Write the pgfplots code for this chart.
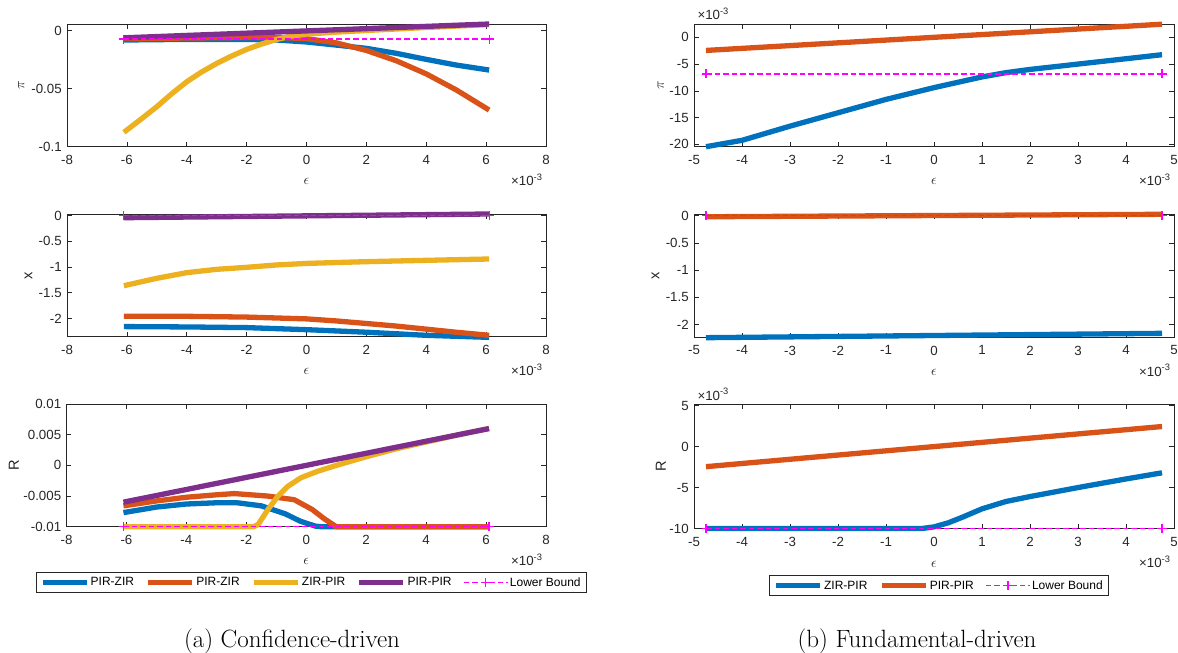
\documentclass[border=0pt]{standalone}
\usepackage{fontspec}
\setsansfont{Liberation Sans}
\usepackage{pgfplots}
\pgfplotsset{compat=1.18}
\definecolor{cB}{rgb}{0,0.447,0.741}
\definecolor{cO}{rgb}{0.85,0.325,0.098}
\definecolor{cY}{rgb}{0.929,0.694,0.125}
\definecolor{cP}{rgb}{0.494,0.184,0.556}
\definecolor{cM}{rgb}{1,0,1}
\definecolor{cAx}{rgb}{0.15,0.15,0.15}
\newcommand{\tickfont}{\sffamily\fontsize{13.3}{15}\selectfont}
\newcommand{\labfont}{\sffamily\fontsize{14.6}{16}\selectfont}
\pgfplotsset{
  mstyle/.style={
    scale only axis, anchor=south west, clip=false,
    scaled ticks=false,
    font=\tickfont,
    axis line style={cAx, line width=0.6pt},
    every tick/.style={cAx, line width=0.6pt},
    tick align=inside, major tick length=4.8pt,
    tick label style={text=cAx, font=\tickfont},
    xticklabel style={yshift=-5pt},
    yticklabel style={xshift=-1.8pt},
    label style={text=cAx, font=\labfont},
    xlabel style={at={(axis description cs:0.5,-0.285)}, anchor=center},
    legend image code/.code={\draw[mark repeat=2,mark phase=2,#1] plot coordinates {(0pt,0pt) (22pt,0pt) (44pt,0pt)};},
  },
  thk/.style={line width=5.3pt, line join=round},
  lb/.style={color=cM, draw=cM, line width=1.3pt, dash pattern=on 5.5pt off 3pt, mark=+, mark size=4.5pt, mark options={solid, line width=1.2pt, draw=cM}},
  lxt/.style={xmin=-8, xmax=8, xtick={-8,-6,...,8}, xticklabels={-8,-6,-4,-2,0,2,4,6,8}},
  rxt/.style={xmin=-5, xmax=5, xtick={-5,-4,...,5}, xticklabels={-5,-4,-3,-2,-1,0,1,2,3,4,5}},
  mylegend/.style={legend style={at={(axis description cs:0.510,#1)}, anchor=center,
     draw=cAx, line width=0.6pt, fill=white, font=\sffamily\fontsize{12}{14}\selectfont,
     inner xsep=4pt, inner ysep=2pt,
     /tikz/every odd column/.append style={column sep=0pt},
     /tikz/every even column/.append style={column sep=10pt},
     nodes={inner xsep=1.5pt, inner ysep=3pt}},
     legend cell align=left},
}
\newcommand{\xsc}{\node[anchor=base east, font=\tickfont, text=cAx] at (rel axis cs:1,0) [yshift=-38.8pt] {×10\textsuperscript{-3}};}
\newcommand{\ysc}{\node[anchor=base west, font=\tickfont, text=cAx] at (rel axis cs:0,1) [yshift=4pt] {×10\textsuperscript{-3}};}
\begin{document}
\begin{tikzpicture}
\path[use as bounding box] (0,0) rectangle (1178pt,-653pt);

% ---------------- left top: pi
\begin{axis}[mstyle, lxt, at={(67pt,-146.7pt)}, width=479pt, height=122.7pt,
  ymin=-0.1, ymax=0.0058, ytick={-0.1,-0.05,0}, yticklabels={-0.1,-0.05,0},
  xlabel={$\epsilon$}, ylabel={$\pi$},
  ylabel style={at={(axis description cs:-0.0954,0.5)}, anchor=center}]
\addplot[thk, cB] coordinates {(-6.1,-0.0080) (-5,-0.0077) (-4,-0.0075) (-3,-0.0075) (-2,-0.0075) (-1,-0.0080) (0,-0.0097) (1,-0.0124) (2,-0.0152) (3,-0.0195) (4,-0.0247) (5,-0.0296) (6.1,-0.0339)};
\addplot[thk, cO] coordinates {(-6.1,-0.0068) (-4,-0.0063) (-2,-0.0058) (-1,-0.0058) (0,-0.0068) (1,-0.0105) (2,-0.0170) (3,-0.0259) (4,-0.0372) (5,-0.0510) (6.1,-0.0684)};
\addplot[thk, cY] coordinates {(-6.1,-0.0876) (-5.5,-0.0757) (-5,-0.0655) (-4.5,-0.0543) (-4,-0.0440) (-3.5,-0.0355) (-3,-0.0282) (-2.5,-0.0218) (-2,-0.0161) (-1.5,-0.0115) (-1,-0.0075) (-0.5,-0.0046) (0,-0.0029) (1,-0.0012) (2,0.0002) (3,0.0015) (4,0.0028) (5,0.0040) (6.1,0.0053)};
\addplot[thk, cP] coordinates {(-6.1,-0.0061) (6.1,0.0058)};
\addplot[lb] coordinates {(-6.1,-0.0072) (6.1,-0.0072)};
\xsc
\end{axis}

% ---------------- left middle: x
\begin{axis}[mstyle, lxt, at={(67pt,-336.7pt)}, width=479pt, height=122.7pt,
  ymin=-2.357, ymax=0.032, ytick={-2,-1.5,-1,-0.5,0}, yticklabels={-2,-1.5,-1,-0.5,0},
  xlabel={$\epsilon$}, ylabel={x},
  ylabel style={at={(axis description cs:-0.0806,0.5)}, anchor=center}]
\addplot[thk, cB] coordinates {(-6.1,-2.16) (-4,-2.167) (-2,-2.18) (0,-2.22) (2,-2.27) (4,-2.33) (6.1,-2.37)};
\addplot[thk, cO] coordinates {(-6.1,-1.96) (-4,-1.96) (-2,-1.975) (0,-2.01) (1,-2.05) (2,-2.10) (3,-2.15) (4,-2.21) (5,-2.27) (6.1,-2.33)};
\addplot[thk, cY] coordinates {(-6.1,-1.364) (-5,-1.22) (-4,-1.11) (-3,-1.045) (-2,-1.006) (-1,-0.96) (0,-0.93) (2,-0.896) (4,-0.87) (6.1,-0.844)};
\addplot[thk, cP] coordinates {(-6.1,-0.04) (6.1,0.032)};
\addplot[lb] coordinates {(-6.1,0) (6.1,0)};
\xsc
\end{axis}

% ---------------- left bottom: R
\begin{axis}[mstyle, lxt, mylegend=-0.455, legend columns=5, at={(66.5pt,-526.7pt)}, width=479.5pt, height=122.7pt,
  ymin=-0.01, ymax=0.01, ytick={-0.01,-0.005,0,0.005,0.01}, yticklabels={-0.01,-0.005,0,0.005,0.01},
  xlabel={$\epsilon$}, ylabel={R},
  ylabel style={at={(axis description cs:-0.11,0.5)}, anchor=center}]
\addplot[thk, cB] coordinates {(-6.1,-0.0077) (-5,-0.0068) (-4,-0.0063) (-3,-0.0061) (-2.3,-0.0061) (-1.5,-0.0066) (-0.7,-0.0079) (-0.2,-0.0091) (0.3,-0.0099) (0.5,-0.01) (6.1,-0.01)};
\addplot[thk, cO] coordinates {(-6.1,-0.0066) (-5,-0.0058) (-4,-0.0052) (-3,-0.0048) (-2.4,-0.0046) (-1.3,-0.0050) (-0.4,-0.0056) (0.2,-0.0072) (0.6,-0.0087) (1.0,-0.01) (6.1,-0.01)};
\addplot[thk, cY] coordinates {(-6.1,-0.01) (-1.75,-0.01) (-1.6,-0.0096) (-1.28,-0.0072) (-0.94,-0.0050) (-0.61,-0.0034) (-0.17,-0.0020) (0.39,-0.00095) (0.94,-0.0001) (1.5,0.0007) (2,0.0014) (3,0.0027) (4,0.0038) (5,0.0049) (6.1,0.0060)};
\addplot[thk, cP] coordinates {(-6.1,-0.006) (6.1,0.006)};
\addplot[lb] coordinates {(-6.1,-0.01) (6.1,-0.01)};
\legend{PIR-ZIR,PIR-ZIR,ZIR-PIR,PIR-PIR,Lower Bound}
\xsc
\end{axis}

% ---------------- right top: pi
\begin{axis}[mstyle, rxt, at={(694pt,-146.7pt)}, width=480pt, height=122.7pt,
  ymin=-20.44, ymax=2.49, ytick={-20,-15,-10,-5,0}, yticklabels={-20,-15,-10,-5,0},
  xlabel={$\epsilon$}, ylabel={$\pi$},
  ylabel style={at={(axis description cs:-0.069,0.5)}, anchor=center}]
\addplot[thk, cB] coordinates {(-4.75,-20.44) (-4,-19.25) (-3,-16.6) (-2,-14.1) (-1,-11.6) (0,-9.4) (0.5,-8.4) (1,-7.4) (1.5,-6.6) (2,-6.0) (3,-5.0) (4,-4.0) (4.75,-3.25)};
\addplot[thk, cO] coordinates {(-4.75,-2.45) (4.75,2.45)};
\addplot[lb] coordinates {(-4.75,-6.85) (4.75,-6.85)};
\xsc
\ysc
\end{axis}

% ---------------- right middle: x
\begin{axis}[mstyle, rxt, at={(694pt,-337.3pt)}, width=480pt, height=123.3pt,
  ymin=-2.238, ymax=0.0306, ytick={-2,-1.5,-1,-0.5,0}, yticklabels={-2,-1.5,-1,-0.5,0},
  xlabel={$\epsilon$}, ylabel={x},
  ylabel style={at={(axis description cs:-0.080,0.5)}, anchor=center}]
\addplot[thk, cB] coordinates {(-4.75,-2.245) (4.75,-2.165)};
\addplot[thk, cO] coordinates {(-4.75,-0.02) (4.75,0.025)};
\addplot[lb] coordinates {(-4.75,0) (4.75,0)};
\xsc
\end{axis}

% ---------------- right bottom: R
\begin{axis}[mstyle, rxt, mylegend=-0.459, legend columns=3, at={(694pt,-528.5pt)}, width=480pt, height=124.5pt,
  ymin=-10, ymax=5.2, ytick={-10,-5,0,5}, yticklabels={-10,-5,0,5},
  xlabel={$\epsilon$}, ylabel={R},
  ylabel style={at={(axis description cs:-0.069,0.5)}, anchor=center}]
\addplot[thk, cB] coordinates {(-4.75,-10) (-0.25,-10) (0,-9.8) (0.3,-9.3) (0.6,-8.6) (1,-7.6) (1.5,-6.7) (2,-6.1) (3,-5.0) (4,-3.95) (4.75,-3.2)};
\addplot[thk, cO] coordinates {(-4.75,-2.45) (4.75,2.45)};
\addplot[lb] coordinates {(-4.75,-10) (4.75,-10)};
\legend{ZIR-PIR,PIR-PIR,Lower Bound}
\xsc
\ysc
\end{axis}

\node[font=\fontsize{25}{30}\selectfont, anchor=base] at (292pt,-647pt) {(a) Confidence-driven};
\node[font=\fontsize{25}{30}\selectfont, anchor=base] at (917pt,-647pt) {(b) Fundamental-driven};
\end{tikzpicture}
\end{document}
